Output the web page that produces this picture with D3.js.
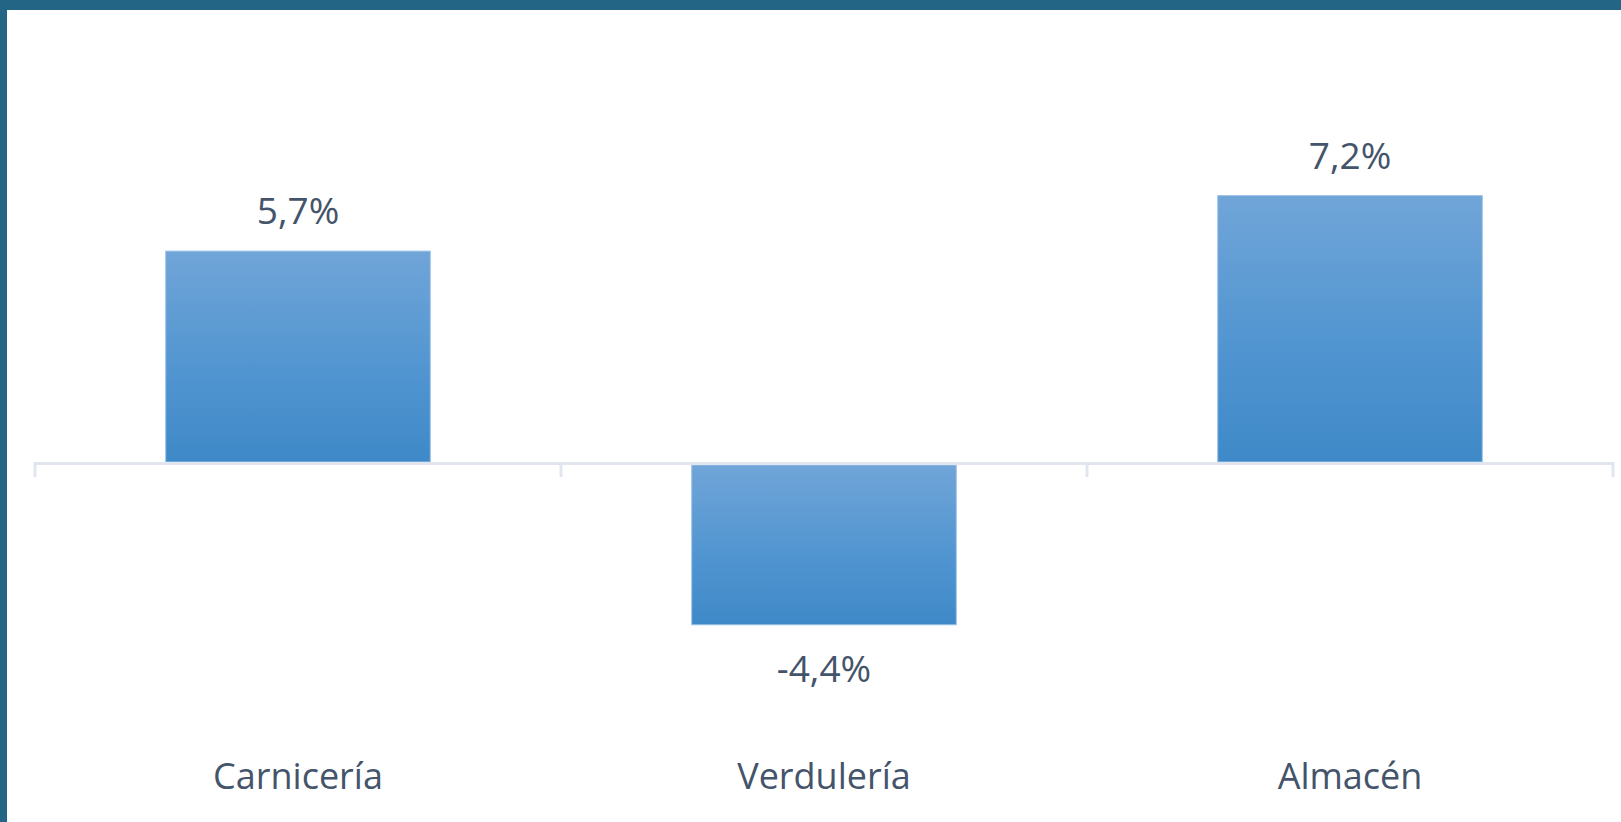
<!DOCTYPE html>
<html>
<head>
<meta charset="utf-8">
<script src="https://cdn.jsdelivr.net/npm/d3@7"></script>
<style>
  html, body { margin: 0; padding: 0; background: #ffffff; }
  svg { display: block; }
</style>
</head>
<body>
<div id="chart"></div>
<script>
// data
const categories = ["Carnicería", "Verdulería", "Almacén"];
const values = [5.7, -4.4, 7.2];
const valueLabels = ["5,7%", "-4,4%", "7,2%"];

const W = 1621, H = 822;
const margin = { left: 35, right: 8 };
const textColor = "#44546a";
const font = "'Open Sans', sans-serif";
const axisW = 3; // thickness of the zero line

const svg = d3.select("#chart").append("svg")
  .attr("width", W)
  .attr("height", H);

// frame (top + left edges only)
svg.append("rect").attr("x", 0).attr("y", 0).attr("width", W).attr("height", H).attr("fill", "#ffffff");
svg.append("rect").attr("x", 0).attr("y", 0).attr("width", W).attr("height", 10).attr("fill", "#236584");
svg.append("rect").attr("x", 0).attr("y", 0).attr("width", 7).attr("height", H).attr("fill", "#236584");

// gradient for bars
const defs = svg.append("defs");
const grad = defs.append("linearGradient")
  .attr("id", "barGrad")
  .attr("x1", 0).attr("y1", 0).attr("x2", 0).attr("y2", 1);
grad.append("stop").attr("offset", "0%").attr("stop-color", "#70a5d8");
grad.append("stop").attr("offset", "60%").attr("stop-color", "#4f94d0");
grad.append("stop").attr("offset", "100%").attr("stop-color", "#3f89c8");

// scales
const x = d3.scaleBand()
  .domain(categories)
  .range([margin.left, W - margin.right])
  .paddingInner(0.497)
  .paddingOuter(0.2485);

const y = d3.scaleLinear()
  .domain([-6, 8])
  .range([684, 166]);

// bars (negative ones hang below the zero line)
svg.selectAll(".bar")
  .data(values)
  .enter()
  .append("rect")
  .attr("class", "bar")
  .attr("x", (d, i) => x(categories[i]))
  .attr("y", (d) => (d >= 0 ? y(d) : y(0) + axisW))
  .attr("width", x.bandwidth())
  .attr("height", (d) => (d >= 0 ? y(0) - y(d) : y(d) - y(0) - axisW))
  .attr("fill", "url(#barGrad)")
  .attr("stroke", "#9cc3e8")
  .attr("stroke-width", 1);

// category axis at zero
const step = x.step();
const tickXs = d3.range(categories.length + 1).map((i) => margin.left + i * step);
const axisG = svg.append("g");
axisG.append("line")
  .attr("x1", tickXs[0]).attr("x2", tickXs[tickXs.length - 1])
  .attr("y1", y(0) + axisW / 2).attr("y2", y(0) + axisW / 2)
  .attr("stroke", "#e1e6ee")
  .attr("stroke-width", axisW);
axisG.selectAll(".tick")
  .data(tickXs)
  .enter()
  .append("line")
  .attr("x1", (d) => d).attr("x2", (d) => d)
  .attr("y1", y(0)).attr("y2", y(0) + 15)
  .attr("stroke", "#e1e6ee")
  .attr("stroke-width", 3);

// value labels
svg.selectAll(".value-label")
  .data(values)
  .enter()
  .append("text")
  .attr("class", "value-label")
  .attr("x", (d, i) => x(categories[i]) + x.bandwidth() / 2)
  .attr("y", (d) => (d >= 0 ? y(d) - 27 : y(d) + 57))
  .attr("text-anchor", "middle")
  .attr("font-family", font)
  .attr("font-size", 37)
  .attr("fill", textColor)
  .text((d, i) => valueLabels[i]);

// category labels
svg.selectAll(".cat-label")
  .data(categories)
  .enter()
  .append("text")
  .attr("class", "cat-label")
  .attr("x", (d) => x(d) + x.bandwidth() / 2)
  .attr("y", 789)
  .attr("text-anchor", "middle")
  .attr("font-family", font)
  .attr("font-size", 36)
  .attr("fill", textColor)
  .text((d) => d);
</script>
</body>
</html>
